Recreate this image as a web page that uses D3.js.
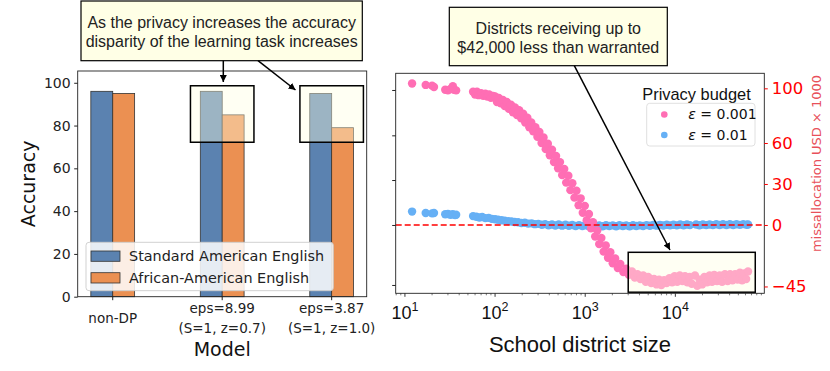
<!DOCTYPE html>
<html>
<head>
<meta charset="utf-8">
<script src="https://cdn.jsdelivr.net/npm/d3@7"></script>
<style>
  body { margin: 0; background: #fff; }
  svg { display: block; }
  text { font-family: "DejaVu Sans", sans-serif; }
  .helv { font-family: "Liberation Sans", Arial, sans-serif; }
</style>
</head>
<body>
<svg id="stage" width="830" height="371"></svg>
<script>
// ---- left panel data ----
var models = ['non-DP', 'eps=8.99', 'eps=3.87'],
    modelSub = ['', '(S=1, z=0.7)', '(S=1, z=1.0)'],
    saeAcc = [96, 96, 95],
    aaeAcc = [95, 85, 79],
    accTicks = [0, 20, 40, 60, 80, 100],
    groupNames = ['Standard American English', 'African-American English'];

// ---- right panel data ----
var sizesEps001 = [12, 17, 20, 21, 28, 30, 32, 34, 35, 37,
  57, 60, 63, 66, 70, 74, 78, 82, 86, 90, 95, 100, 105, 110, 116, 122, 128, 135,
  142, 150, 158, 166, 175, 185, 195, 205, 216, 228, 240, 252, 265, 280, 295, 310,
  328, 345, 365, 385, 405, 428, 450, 475, 500, 525, 555, 585, 615, 650, 685, 720,
  760, 800, 845, 890, 940, 990, 1040, 1100, 1160, 1220, 1290, 1360, 1430, 1510,
  1600, 1690, 1790, 1900, 2020, 2150, 2300, 2450, 2650, 2850, 3050, 3300, 3550,
  3800, 4100, 4400, 4700, 5000, 5400, 5800, 6200, 6600, 7000, 7500, 8000, 8600,
  9200, 9800, 10500, 11200, 12000, 12800, 13600, 14400, 15200, 16500, 17500,
  18600, 19800, 21000, 22500, 24000, 25500, 27000, 29000, 31000, 33000, 35500,
  38000, 40500, 43000, 46000, 49000, 52000, 55000, 58000, 61000, 64000];
var missEps001 = [103.5, 102.5, 102, 101, 99, 98.5, 99.5, 101.5, 99, 98.5,
  97.5, 95.5, 97.5, 95, 96.5, 94.5, 96, 94, 95.5, 93, 94.5, 94, 90, 93, 89, 91.5, 87, 90,
  85, 88, 82.5, 86, 80.5, 84, 78, 81.5, 75, 78.5, 71.5, 75, 68.5, 71.5, 64.5, 68,
  60, 64, 55.5, 59.5, 51, 55, 46, 50.5, 41.5, 46, 36.5, 41, 31, 36, 25.5, 30.5,
  20, 25, 14.5, 19.5, 9, 14, 3.5, 8, -2.5, 2, -8.5, -4, -14, -9.5,
  -19.5, -15, -24, -20, -28, -24.5, -31.5, -28.5, -34.5, -32, -36.5, -34, -38.5,
  -36, -39.5, -37, -41.5, -38, -42.5, -39.5, -43.5, -40, -44, -40.5, -42.5, -39,
  -42, -37.5, -41.5, -37, -41, -37.5, -42, -38, -43, -37, -44.5, -40,
  -43.5, -38, -42, -37, -41.5, -36.5, -41, -37, -41.5, -36, -41,
  -36, -40.5, -36, -40, -35, -40.5, -35.5, -39.5, -34, -33.5];

var sizesEps01 = [12, 17, 20, 21, 28, 30, 32, 34, 36, 37,
  57, 62, 67, 72, 78, 85, 92, 100, 108, 118, 128, 140, 152, 165, 180, 196, 214,
  233, 254, 277, 302, 330, 360, 392, 428, 466, 508, 554, 604, 658, 718, 782, 853,
  930, 1013, 1105, 1204, 1313, 1431, 1560, 1700, 1853, 2020, 2202, 2400, 2616,
  2852, 3108, 3388, 3693, 4025, 4388, 4783, 5213, 5682, 6194, 6751, 7359, 8021,
  8743, 9530, 10388, 11323, 12342, 13452, 14500, 17000, 18500, 20200, 22000,
  24000, 26100, 28500, 31000, 33800, 36900, 40200, 43800, 47700, 52000, 56700,
  61800, 64000];
var missEps01 = [9.8, 8.8, 8.5, 8.8, 7.8, 8, 7.5, 7.8, 7.2, 7.5,
  6.5, 6, 5.5, 5.8, 5, 5.2, 4.5, 4.2, 3.8, 3.5, 3.2, 2.8, 2.5, 2.2, 2, 1.5, 1.6,
  1, 1.2, 0.6, 0.8, 0.2, 0.6, -0.2, 0.4, -0.4, 0.3, -0.5, 0.2, -0.6, 0, -0.7, -0.1,
  -0.8, -0.2, -0.9, -0.2, -0.8, -0.3, -0.9, -0.2, -0.8, -0.3, -0.9, -0.2, -0.8,
  -0.3, -0.9, -0.2, -0.8, -0.3, -0.7, -0.1, -0.6, 0, -0.5, 0.1, -0.4, 0.2,
  -0.3, 0.2, -0.3, 0.3, -0.2, 0.3, -0.1, 0.3, -0.2, 0.4, -0.1,
  0.4, -0.1, 0.5, 0, 0.5, 0, 0.5, 0, 0.5, 0.1, 0.6,
  0.2, 0.4];

var missTicks = [100, 60, 30, 0, -45],
    leftTicks = [98.8, 65.6, 32.9, 0, -43.9],
    decades = [10, 100, 1000, 10000],
    budgetLabels = ['0.001', '0.01'];

var BLUE = '#5b82b0', ORANGE = '#eb9052',
    PINK = '#ff6eb4', SKY = '#66b0f5',
    HILITE = '#ffffe0',
    DOT = 4.2;

var svg = d3.select('#stage');

// arrowhead
svg.append('defs').append('marker')
  .attr('id', 'head')
  .attr('viewBox', '0 0 10 10')
  .attr('refX', 10).attr('refY', 5)
  .attr('markerWidth', 7).attr('markerHeight', 7)
  .attr('markerUnits', 'userSpaceOnUse')
  .attr('orient', 'auto')
  .append('path').attr('d', 'M0,0L10,5L0,10z').attr('fill', '#000');

// ================= left panel =================
var xL = d3.scaleLinear().domain([-0.32, 2.32]).range([77.7, 366.7]),
    yL = d3.scaleLinear().domain([0, 105.5]).range([296.7, 71]),
    barW = xL(0.2) - xL(0);

var left = svg.append('g');

left.selectAll('rect.sae').data(saeAcc).enter().append('rect')
  .attr('class', 'sae')
  .attr('x', function (d, i) { return xL(i - 0.2); })
  .attr('y', function (d) { return yL(d); })
  .attr('width', barW)
  .attr('height', function (d) { return yL(0) - yL(d); })
  .attr('fill', BLUE).attr('stroke', '#333').attr('stroke-width', 0.8);

left.selectAll('rect.aae').data(aaeAcc).enter().append('rect')
  .attr('class', 'aae')
  .attr('x', function (d, i) { return xL(i); })
  .attr('y', function (d) { return yL(d); })
  .attr('width', barW)
  .attr('height', function (d) { return yL(0) - yL(d); })
  .attr('fill', ORANGE).attr('stroke', '#333').attr('stroke-width', 0.8);

// highlight boxes on the DP models
left.selectAll('rect.hl').data([1, 2]).enter().append('rect')
  .attr('class', 'hl')
  .attr('x', function (d) { return xL(d - 0.29); })
  .attr('width', xL(0.58) - xL(0))
  .attr('y', yL(98.6))
  .attr('height', yL(72.2) - yL(98.6))
  .attr('fill', HILITE).attr('fill-opacity', 0.4)
  .attr('stroke', '#000').attr('stroke-width', 1.5);

// frame
left.append('rect')
  .attr('x', xL.range()[0]).attr('y', yL.range()[1])
  .attr('width', xL.range()[1] - xL.range()[0])
  .attr('height', yL.range()[0] - yL.range()[1])
  .attr('fill', 'none').attr('stroke', '#222').attr('stroke-width', 0.9);

var yAxisL = left.append('g')
  .attr('transform', 'translate(' + xL.range()[0] + ',0)')
  .call(d3.axisLeft(yL).tickValues(accTicks).tickSize(3.5).tickPadding(3.5));
yAxisL.select('.domain').remove();
yAxisL.selectAll('text').attr('font-size', 14).attr('fill', '#222')
  .attr('font-family', 'DejaVu Sans');
yAxisL.selectAll('line').attr('stroke', '#222');

// x ticks + labels
models.forEach(function (m, i) {
  left.append('line')
    .attr('x1', xL(i)).attr('x2', xL(i))
    .attr('y1', yL(0)).attr('y2', yL(0) + 3.5)
    .attr('stroke', '#222');
  var t = left.append('text')
    .attr('x', xL(i)).attr('text-anchor', 'middle')
    .attr('font-size', 13.5).attr('fill', '#222');
  if (modelSub[i]) {
    t.attr('y', 313).text(m);
    left.append('text')
      .attr('x', xL(i)).attr('y', 333).attr('text-anchor', 'middle')
      .attr('font-size', 13.5).attr('fill', '#222').text(modelSub[i]);
  } else {
    t.attr('y', 323).text(m);
  }
});

left.append('text')
  .attr('transform', 'translate(35,' + (yL(0) + yL(105.5)) / 2 + ') rotate(-90)')
  .attr('text-anchor', 'middle').attr('font-size', 19).attr('fill', '#111')
  .text('Accuracy');
left.append('text')
  .attr('x', (xL.range()[0] + xL.range()[1]) / 2).attr('y', 356)
  .attr('text-anchor', 'middle').attr('font-size', 19).attr('fill', '#111')
  .text('Model');

// legend
var legL = left.append('g');
legL.append('rect')
  .attr('x', 86).attr('y', 242.3).attr('width', 247.3).attr('height', 48.4)
  .attr('rx', 3).attr('fill', '#fff').attr('fill-opacity', 0.85)
  .attr('stroke', '#ccc').attr('stroke-width', 0.9);
groupNames.forEach(function (g, i) {
  legL.append('rect')
    .attr('x', 91).attr('y', 251 + i * 21.7).attr('width', 29).attr('height', 10.3)
    .attr('fill', i ? ORANGE : BLUE).attr('stroke', '#333').attr('stroke-width', 0.8);
  legL.append('text')
    .attr('x', 129).attr('y', 256 + i * 21.7).attr('dy', '0.35em')
    .attr('font-size', 14.4).attr('fill', '#222').text(g);
});

// annotation
var noteL = left.append('g');
noteL.append('rect')
  .attr('x', 81).attr('y', 1).attr('width', 281.3).attr('height', 59.7)
  .attr('fill', '#ffffe6').attr('stroke', '#000').attr('stroke-width', 1.2);
['As the privacy increases the accuracy', 'disparity of the learning task increases']
  .forEach(function (s, i) {
    noteL.append('text').attr('class', 'helv')
      .attr('x', 221.7).attr('y', 27.5 + i * 19.6)
      .attr('text-anchor', 'middle').attr('font-size', 16).attr('fill', '#222')
      .text(s);
  });
noteL.append('line')
  .attr('x1', 223.3).attr('y1', 60.7).attr('x2', 223.3).attr('y2', 82)
  .attr('stroke', '#000').attr('stroke-width', 1.5).attr('marker-end', 'url(#head)');
noteL.append('line')
  .attr('x1', 258).attr('y1', 60.7).attr('x2', 295.5).attr('y2', 90)
  .attr('stroke', '#000').attr('stroke-width', 1.5).attr('marker-end', 'url(#head)');

// ================= right panel =================
var xR = d3.scaleLog().domain([7.9, 97000]).range([395.7, 764.3]),
    yR = d3.scaleLinear().domain([-50, 111]).range([293.3, 73.3]);

var right = svg.append('g');

right.selectAll('circle.e01').data(sizesEps01).enter().append('circle')
  .attr('class', 'e01')
  .attr('cx', function (d) { return xR(d); })
  .attr('cy', function (d, i) { return yR(missEps01[i]); })
  .attr('r', DOT).attr('fill', SKY);

right.selectAll('circle.e001').data(sizesEps001).enter().append('circle')
  .attr('class', 'e001')
  .attr('cx', function (d) { return xR(d); })
  .attr('cy', function (d, i) { return yR(missEps001[i]); })
  .attr('r', DOT).attr('fill', PINK);

right.append('line')
  .attr('x1', xR.range()[0]).attr('x2', xR.range()[1])
  .attr('y1', yR(0)).attr('y2', yR(0))
  .attr('stroke', 'red').attr('stroke-width', 1.6).attr('stroke-dasharray', '6,3');

// highlight box
right.append('rect')
  .attr('x', xR(3000)).attr('y', yR(-20))
  .attr('width', xR(77000) - xR(3000)).attr('height', yR(-49.2) - yR(-20))
  .attr('fill', HILITE).attr('fill-opacity', 0.4)
  .attr('stroke', '#000').attr('stroke-width', 1.5);

right.append('rect')
  .attr('x', xR.range()[0]).attr('y', yR.range()[1])
  .attr('width', xR.range()[1] - xR.range()[0])
  .attr('height', yR.range()[0] - yR.range()[1])
  .attr('fill', 'none').attr('stroke', '#222').attr('stroke-width', 0.9);

// left ticks (no labels)
var lt = right.append('g')
  .attr('transform', 'translate(' + xR.range()[0] + ',0)')
  .call(d3.axisLeft(yR).tickValues(leftTicks).tickSize(3.5).tickFormat(''));
lt.select('.domain').remove();
lt.selectAll('line').attr('stroke', '#222');

// right axis in red
var rt = right.append('g')
  .attr('transform', 'translate(' + xR.range()[1] + ',0)')
  .call(d3.axisRight(yR).tickValues(missTicks).tickSize(3.5).tickPadding(4)
    .tickFormat(function (d) { return d < 0 ? '\u2212' + (-d) : d; }));
rt.select('.domain').remove();
rt.selectAll('line').attr('stroke', 'red');
rt.selectAll('text').attr('fill', 'red').attr('font-size', 16.5)
  .attr('font-family', 'DejaVu Sans');

right.append('text')
  .attr('transform', 'translate(816,' + yR(45) + ') rotate(-90)')
  .attr('text-anchor', 'middle').attr('dy', '0.35em')
  .attr('font-size', 13).attr('fill', '#e8505a')
  .text('missallocation USD \u00d7 1000');

// log x axis
var minor = xR.ticks().filter(function (d) { return decades.indexOf(d) < 0; });
var bx = right.append('g')
  .attr('transform', 'translate(0,' + yR.range()[0] + ')');
bx.selectAll('line.minor').data(minor).enter().append('line')
  .attr('x1', function (d) { return xR(d); }).attr('x2', function (d) { return xR(d); })
  .attr('y1', 0).attr('y2', 2).attr('stroke', '#222').attr('stroke-width', 0.6);
bx.selectAll('line.major').data(decades).enter().append('line')
  .attr('x1', function (d) { return xR(d); }).attr('x2', function (d) { return xR(d); })
  .attr('y1', 0).attr('y2', 3.5).attr('stroke', '#222').attr('stroke-width', 0.9);
decades.forEach(function (d) {
  var t = bx.append('text').attr('class', 'helv')
    .attr('x', xR(d)).attr('y', 26).attr('text-anchor', 'middle')
    .attr('font-size', 18).attr('fill', '#111');
  t.append('tspan').text('10');
  t.append('tspan').attr('dy', -8).attr('font-size', 12.5).text(Math.round(Math.log10(d)));
});

right.append('text').attr('class', 'helv')
  .attr('x', 580).attr('y', 352).attr('text-anchor', 'middle')
  .attr('font-size', 22).attr('fill', '#111').text('School district size');

// legend
var legR = right.append('g');
legR.append('text').attr('class', 'helv')
  .attr('x', 696.5).attr('y', 99.5).attr('text-anchor', 'middle')
  .attr('font-size', 16.4).attr('fill', '#111').text('Privacy budget');
legR.append('rect')
  .attr('x', 646.7).attr('y', 103.3).attr('width', 108.3).attr('height', 42.7)
  .attr('rx', 3).attr('fill', '#fff').attr('fill-opacity', 0.85)
  .attr('stroke', '#ddd').attr('stroke-width', 0.9);
budgetLabels.forEach(function (b, i) {
  legR.append('circle')
    .attr('cx', 664.3).attr('cy', 114.5 + i * 20.5).attr('r', 3.3)
    .attr('fill', i ? SKY : PINK);
  var t = legR.append('text')
    .attr('x', 688.3).attr('y', 114.5 + i * 20.5).attr('dy', '0.35em')
    .attr('font-size', 14).attr('fill', '#111');
  t.append('tspan').attr('font-style', 'italic').text('\u03b5');
  t.append('tspan').text(' = ' + b);
});

// annotation
var noteR = right.append('g');
noteR.append('rect')
  .attr('x', 449.3).attr('y', 7.3).attr('width', 218).attr('height', 58.4)
  .attr('fill', '#ffffe6').attr('stroke', '#000').attr('stroke-width', 1.2);
['Districts receiving up to', '$42,000 less than warranted'].forEach(function (s, i) {
  noteR.append('text').attr('class', 'helv')
    .attr('x', 558.3).attr('y', 33.5 + i * 19.6)
    .attr('text-anchor', 'middle').attr('font-size', 16).attr('fill', '#222')
    .text(s);
});
noteR.append('line')
  .attr('x1', 574.3).attr('y1', 65.7).attr('x2', 670).attr('y2', 250)
  .attr('stroke', '#000').attr('stroke-width', 1.5).attr('marker-end', 'url(#head)');
</script>
</body>
</html>
